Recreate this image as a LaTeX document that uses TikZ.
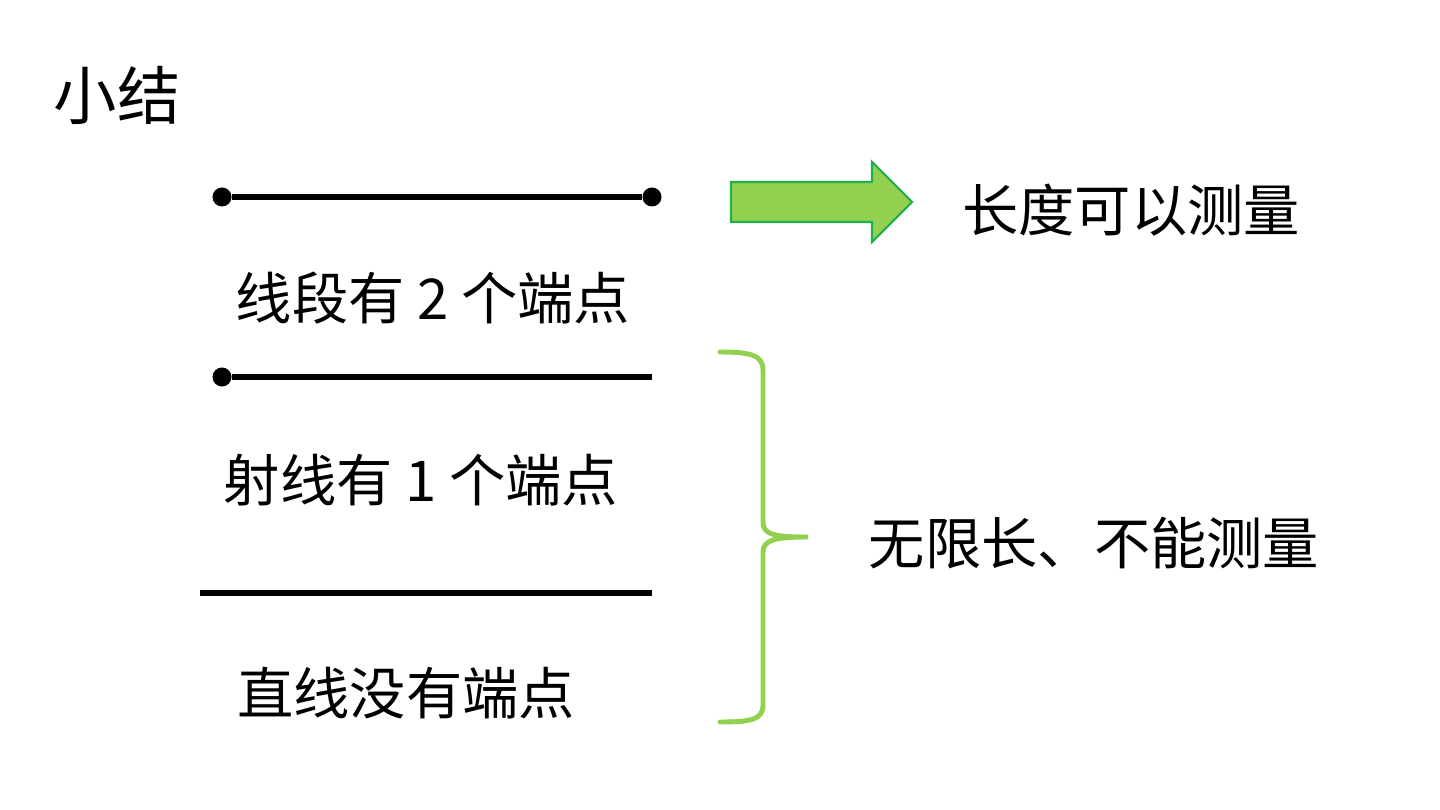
\documentclass[tikz,border=0pt]{standalone}
\usepackage{fontspec}
\setmainfont{Noto Sans CJK SC}
\usepackage{xcolor}
\usetikzlibrary{positioning, calc}
\definecolor{leafgreen}{HTML}{92D050}
\definecolor{edgegreen}{HTML}{22B04C}
\tikzset{
    title/.style={
        inner sep=0pt, font=\fontsize{18pt}{20pt}\selectfont
    },
    label/.style={
        inner sep=0pt, font=\fontsize{16pt}{19pt}\selectfont
    },
    endpoint/.style={
        circle, fill=black, inner sep=0pt, minimum size=0.19cm
    },
    stroke/.style={
        line width=1.5pt, draw=black
    },
    bigarrow/.style={
        fill=leafgreen, draw=edgegreen, line width=0.6pt
    },
    brace/.style={
        draw=leafgreen, line width=1.4pt, line cap=round
    }
}

\begin{document}
\begin{tikzpicture}[x=0.01cm, y=-0.01cm]

    \useasboundingbox (0,0) rectangle (1440,810);

    \node[title] (head) at (117,95) {小结};

    % segment
    \node[endpoint] (segA) at (222,197) {};
    \node[endpoint] (segB) at (652,197) {};
    \draw[stroke] (segA) -- (segB);
    \node[label] (segtxt) at (433,298) {线段有 2 个端点};

    % ray
    \node[endpoint] (rayA) at (222,377) {};
    \coordinate (rayB) at (652,377);
    \draw[stroke] (rayA) -- (rayB);
    \node[label] (raytxt) at (421,480) {射线有 1 个端点};

    % line
    \coordinate (lineA) at (200,593);
    \coordinate (lineB) at (652,593);
    \draw[stroke] (lineA) -- (lineB);
    \node[label] (linetxt) at (406,693) {直线没有端点};

    % arrow to result
    \draw[bigarrow] (731,182) -- (872,182) -- (872,162) -- (912,202)
        -- (872,242) -- (872,222) -- (731,222) -- cycle;
    \node[label] (measure) at (1131,210) {长度可以测量};

    % brace
    \draw[brace] (720,352) .. controls (750,352) and (763,355) .. (763,370)
        -- (763,522) .. controls (763,535) and (775,537) .. (808,537)
        .. controls (775,537) and (763,540) .. (763,552)
        -- (763,705) .. controls (763,720) and (750,722) .. (720,722);
    \node[label] (infinite) at (1094,543) {无限长、不能测量};

\end{tikzpicture}
\end{document}
